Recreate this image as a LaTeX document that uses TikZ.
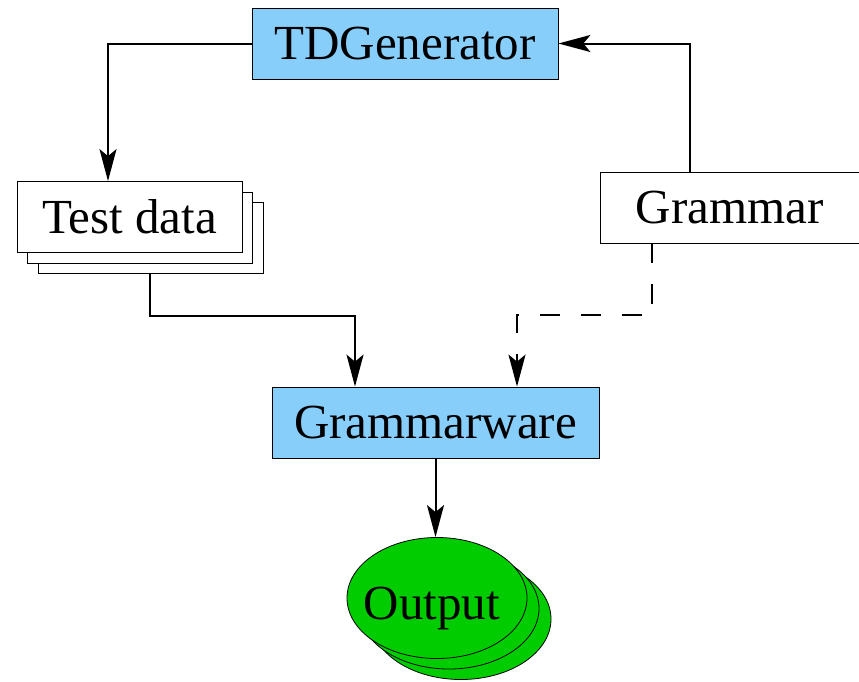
\documentclass[tikz,border=0pt]{standalone}
\usepackage{fontspec}
\setmainfont{Liberation Serif}
\usetikzlibrary{arrows.meta,shadows,shapes.geometric}

\definecolor{toolblue}{RGB}{135,206,250}
\definecolor{outgreen}{RGB}{0,204,0}

\begin{document}
\begin{tikzpicture}[
    x=1pt, y=-1pt,
    base/.style = {rectangle, draw=black, line width=0.8pt, inner sep=0pt,
minimum height=71pt, text centered,
font=\fontsize{49}{56}\selectfont},
    tool/.style = {base, fill=toolblue},
    file/.style = {base, fill=white},
    stack/.style = {file, double copy shadow={shadow xshift=10.5pt, shadow yshift=-10.5pt}},
    result/.style = {ellipse, draw=black, line width=0.8pt, fill=outgreen, inner sep=0pt,
minimum width=180pt, minimum height=121pt,
double copy shadow={shadow xshift=12pt, shadow yshift=-10.5pt}},
    flow/.style = {line width=2pt, -{Stealth[length=32pt, width=17pt, inset=7pt]}}
]

  \useasboundingbox (0,0) rectangle (859,681);

  \node (gen)  [tool, minimum width=306pt] at (405,43.5) {TDGenerator};
  \node (data) [stack, minimum width=225pt] at (129.5,217) {Test data};
  \node (gram) [file, minimum width=259pt] at (729.5,207.5) {Grammar};
  \node (ware) [tool, minimum width=327pt] at (435.5,422.5) {Grammarware};
  \node (out)  [result, label={[font=\fontsize{49}{56}\selectfont, xshift=-5pt, yshift=-10pt]center:Output}] at (437,598) {};

  \draw[flow] (gen.west) -| ([xshift=-21.5pt]data.north);
  \draw[flow] ([xshift=-39.5pt]gram.north) |- (gen.east);
  \draw[flow] ([xshift=20.5pt]data.south) ++(0,21) -- ++(0,42) -| ([xshift=-80.5pt]ware.north);
  \draw[flow, dash pattern=on 20pt off 21pt] ([xshift=-77.5pt]gram.south) -- ++(0,72) -| ([xshift=81.5pt]ware.north);
  \draw[flow] (ware.south) -- (ware.south |- out.north);

\end{tikzpicture}
\end{document}
